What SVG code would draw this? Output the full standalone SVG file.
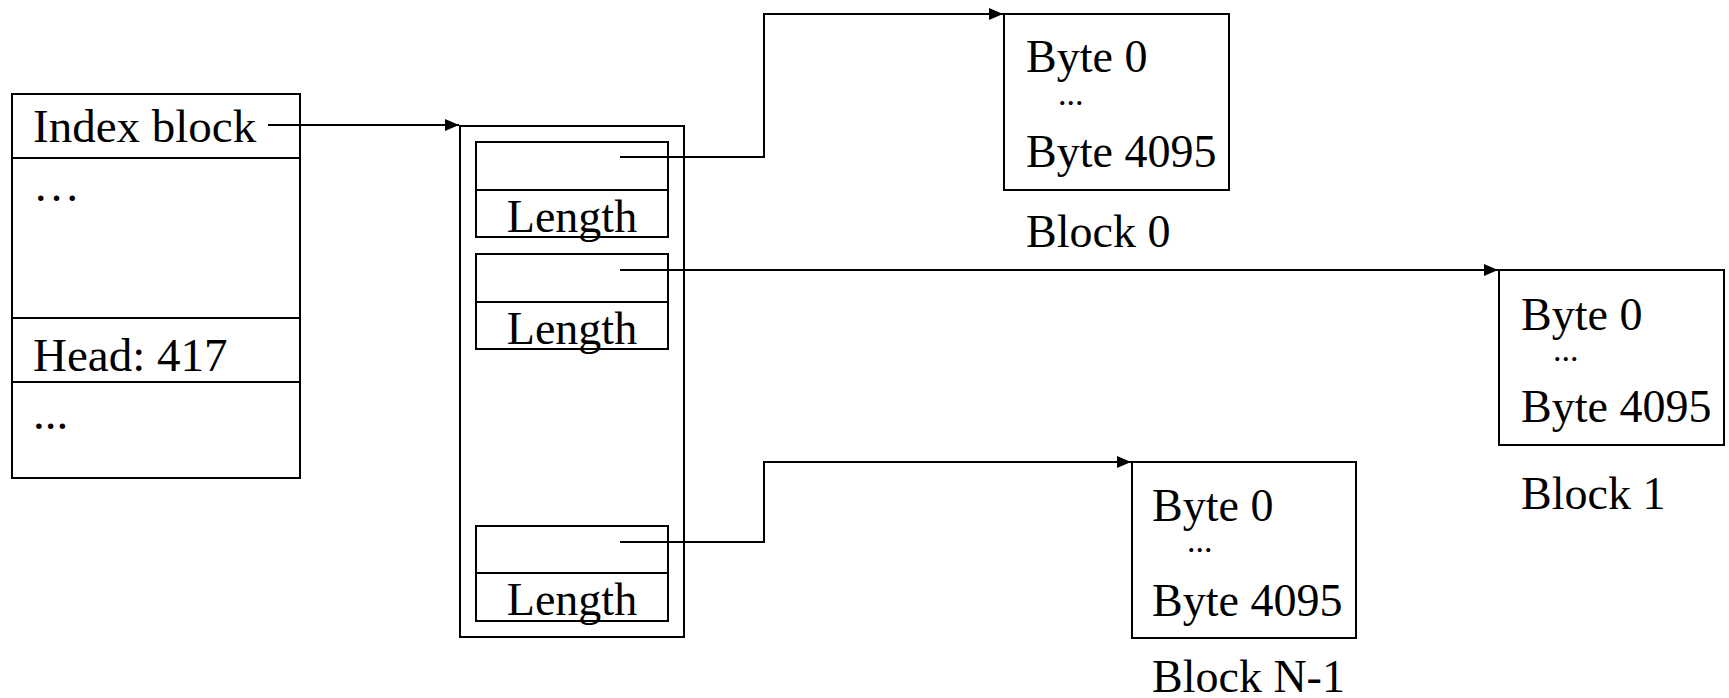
<svg xmlns="http://www.w3.org/2000/svg" width="1729" height="698" viewBox="0 0 1729 698">
<style>
.box{fill:#fff;stroke:#000;stroke-width:2}
.ln{stroke:#000;stroke-width:2;fill:none}
.t{font-family:"Liberation Serif","Times New Roman",serif;font-size:46px;fill:#000}
.tl{font-family:"Liberation Serif","Times New Roman",serif;font-size:47px;fill:#000}
.dots{font-family:"Liberation Serif","Times New Roman",serif;font-size:34px;fill:#000}
.c{stroke:#000;stroke-width:2;fill:none;marker-end:url(#arr)}
</style>
<defs>
<marker id="arr" markerUnits="userSpaceOnUse" markerWidth="15" markerHeight="12" refX="14" refY="6" orient="auto">
<path d="M0,0 L14,6 L0,12 z" fill="#000"/>
</marker>
</defs>
<rect width="1729" height="698" fill="#fff"/>
<g id="index-file">
<rect class="box" x="12" y="94" width="288" height="384"/>
<line class="ln" x1="12" y1="158" x2="300" y2="158"/>
<line class="ln" x1="12" y1="318" x2="300" y2="318"/>
<line class="ln" x1="12" y1="382" x2="300" y2="382"/>
<text class="tl" x="33" y="142">Index block</text>
<text class="tl" x="33" y="201">…</text>
<text class="tl" x="33" y="371">Head: 417</text>
<text class="tl" x="33" y="429">...</text>
</g>
<g id="index-block">
<rect class="box" x="460" y="126" width="224" height="511"/>
<rect class="box" x="476" y="142" width="192" height="95"/>
<line class="ln" x1="476" y1="190" x2="668" y2="190"/>
<text class="t" x="572" y="232" text-anchor="middle">Length</text>
<rect class="box" x="476" y="254" width="192" height="95"/>
<line class="ln" x1="476" y1="302" x2="668" y2="302"/>
<text class="t" x="572" y="344" text-anchor="middle">Length</text>
<rect class="box" x="476" y="526" width="192" height="95"/>
<line class="ln" x1="476" y1="573" x2="668" y2="573"/>
<text class="t" x="572" y="615" text-anchor="middle">Length</text>
</g>
<g id="block0">
<rect class="box" x="1004" y="14" width="225" height="176"/>
<text class="t" x="1026" y="72">Byte 0</text>
<text class="dots" x="1058" y="105">...</text>
<text class="t" x="1026" y="167">Byte 4095</text>
<text class="t" x="1026" y="247">Block 0</text>
</g>
<g id="block1">
<rect class="box" x="1499" y="270" width="225" height="175"/>
<text class="t" x="1521" y="330">Byte 0</text>
<text class="dots" x="1553" y="361">...</text>
<text class="t" x="1521" y="422">Byte 4095</text>
<text class="t" x="1521" y="509">Block 1</text>
</g>
<g id="blockN-1">
<rect class="box" x="1132" y="462" width="224" height="176"/>
<text class="t" x="1152" y="521">Byte 0</text>
<text class="dots" x="1187" y="552">...</text>
<text class="t" x="1152" y="616">Byte 4095</text>
<text class="t" x="1152" y="692">Block N-1</text>
</g>
<g id="connectors">
<path class="c" d="M268,125 H459"/>
<path class="c" d="M620,157 H764 V14 H1003"/>
<path class="c" d="M620,270 H1498"/>
<path class="c" d="M620,542 H764 V462 H1131"/>
</g>
</svg>
